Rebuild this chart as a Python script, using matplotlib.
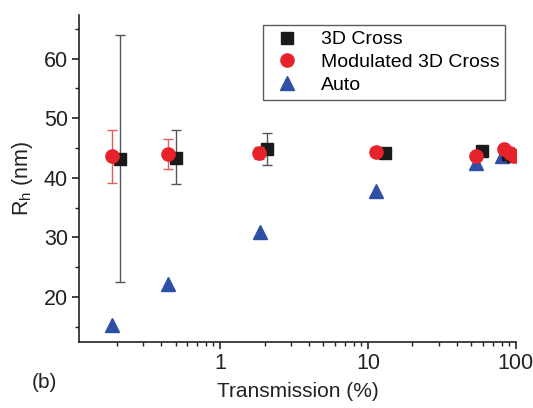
import matplotlib
matplotlib.use("Agg")
import matplotlib.pyplot as plt
from matplotlib.ticker import LogLocator, FixedLocator, NullFormatter, FixedFormatter, MultipleLocator
from matplotlib.lines import Line2D

plt.rcParams['font.family'] = ['Liberation Sans', 'DejaVu Sans']

# 3D Cross
cross_x = [0.211, 0.50, 2.07, 13.0, 59.5, 88, 96]
cross_y = [43.1, 43.4, 44.9, 44.1, 44.5, 44.0, 43.6]
cross_err_lo = [20.6, 4.4, 2.7, 0.3, 0.4, 1.0, 0.8]
cross_err_hi = [20.9, 4.6, 2.6, 0.3, 0.4, 0.8, 0.8]

# Modulated 3D Cross
mod_x = [0.185, 0.447, 1.84, 11.3, 53.7, 83, 92, 97]
mod_y = [43.6, 44.0, 44.2, 44.4, 43.7, 44.8, 44.1, 43.7]
mod_err_lo = [4.4, 2.5, 1.0, 0.3, 0.4, 0.5, 0.8, 0.6]
mod_err_hi = [4.5, 2.5, 1.0, 0.3, 0.4, 0.5, 0.8, 0.6]

# Auto
auto_x = [0.186, 0.447, 1.86, 11.4, 53.7, 81]
auto_y = [15.3, 22.1, 30.9, 37.8, 42.4, 43.6]
auto_err = [1.0, 1.0, 1.0, 1.0, 1.0, 1.0]

fig = plt.figure(figsize=(5.33, 4.08), dpi=100)
ax = fig.add_axes([0.148, 0.1625, 0.821, 0.8005])

ax.errorbar(auto_x, auto_y, yerr=[auto_err, [0]*len(auto_err)], fmt='^', color='#2f4fa5',
            ecolor='#2f4fa5', elinewidth=1.0, capsize=0, markersize=9.5, label='Auto', zorder=3)
ax.errorbar(cross_x, cross_y, yerr=[cross_err_lo, cross_err_hi], fmt='s', color='#1a1a1a',
            ecolor='#555555', elinewidth=1.0, capsize=3.5, capthick=1.0, markersize=8,
            label='3D Cross', zorder=4)
ax.errorbar(mod_x, mod_y, yerr=[mod_err_lo, mod_err_hi], fmt='o', color='#e8222a',
            ecolor='#e06060', elinewidth=1.0, capsize=3.5, capthick=1.0, markersize=9.5,
            label='Modulated 3D Cross', zorder=5)

ax.set_xscale('log')
ax.set_xlim(0.111, 101)
ax.set_ylim(12.5, 67.3)

ax.spines['top'].set_visible(False)
ax.spines['right'].set_visible(False)
for s in ('left', 'bottom'):
    ax.spines[s].set_linewidth(1.2)
    ax.spines[s].set_color('#222222')

ax.xaxis.set_major_locator(FixedLocator([1, 10, 100]))
ax.xaxis.set_major_formatter(FixedFormatter(['1', '10', '100']))
ax.xaxis.set_minor_locator(LogLocator(base=10, subs=[2, 3, 4, 5, 6, 7, 8, 9]))
ax.xaxis.set_minor_formatter(NullFormatter())
ax.yaxis.set_major_locator(MultipleLocator(10))
ax.yaxis.set_minor_locator(MultipleLocator(5))

ax.tick_params(which='major', direction='out', length=5, width=1.2, labelsize=15.5,
               colors='#222222', pad=3)
ax.tick_params(which='minor', direction='out', length=3, width=1.0, colors='#222222')

ax.set_xlabel('Transmission (%)', fontsize=15, color='#222222', labelpad=6)
ax.set_ylabel(r'R$_\mathregular{h}$ (nm)', fontsize=15.5, color='#222222', labelpad=6)

h = [Line2D([], [], marker='s', ls='', color='#1a1a1a', markersize=8),
     Line2D([], [], marker='o', ls='', color='#e8222a', markersize=9.5),
     Line2D([], [], marker='^', ls='', color='#2f4fa5', markersize=9.5)]
leg = ax.legend(h, ['3D Cross', 'Modulated 3D Cross', 'Auto'], loc='upper left',
                bbox_to_anchor=(0.42, 0.97), fontsize=14, frameon=True, fancybox=False,
                edgecolor='#333333', handletextpad=0.8, borderpad=0.3, labelspacing=0.27,
                handlelength=1.9, borderaxespad=0)
leg.get_frame().set_linewidth(1.0)

fig.text(0.06, 0.048, '(b)', fontsize=15, color='#222222')

fig.savefig('out.png', dpi=100)
